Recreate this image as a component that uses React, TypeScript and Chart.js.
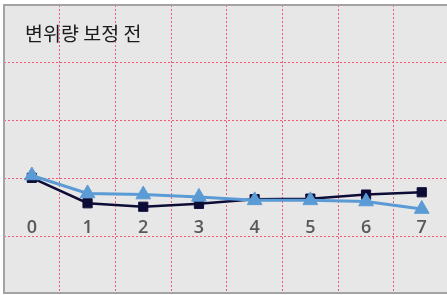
import React, { useEffect, useRef } from "react";
import { Chart, registerables } from "chart.js";

Chart.register(...registerables);

const categories = ["0", "1", "2", "3", "4", "5", "6", "7"];
const squareSeries = [0.01, -0.43, -0.49, -0.44, -0.36, -0.35, -0.28, -0.24];
const triangleSeries = [0.05, -0.26, -0.28, -0.32, -0.38, -0.38, -0.4, -0.53];
const chartTitle = "변위량 보정 전";
const yMin = -2;
const yMax = 3;
const axisCrossValue = -0.6;

const GRID = "#f05a78";
const BG = "#e7e7e7";
const FRAME = "#a3a3a3";
const NAVY = "#0c0c36";
const BLUE = "#5b9bd5";

const framePlugin = {
  id: "frame",
  beforeDraw(chart: any) {
    const { ctx, chartArea: a } = chart;
    ctx.save();
    ctx.fillStyle = "#ffffff";
    ctx.fillRect(0, 0, chart.width, chart.height);
    ctx.fillStyle = BG;
    ctx.fillRect(a.left, a.top, a.right - a.left, a.bottom - a.top);
    ctx.restore();
  },
  afterDraw(chart: any) {
    const { ctx, chartArea: a } = chart;
    ctx.save();
    ctx.strokeStyle = FRAME;
    ctx.lineWidth = 2;
    ctx.strokeRect(a.left, a.top, a.right - a.left + 20, a.bottom - a.top - 1);
    ctx.fillStyle = "#1a1a1a";
    ctx.font = '19.5px "Noto Sans CJK KR", "Noto Sans", sans-serif';
    ctx.textBaseline = "middle";
    ctx.textAlign = "left";
    ctx.fillText(chartTitle, a.left + 21, a.top + 29);
    ctx.restore();
  },
};

export default function App() {
  const ref = useRef<HTMLCanvasElement | null>(null);

  useEffect(() => {
    if (!ref.current) return;
    const chart = new Chart(ref.current, {
      type: "line",
      data: {
        labels: categories,
        datasets: [
          {
            label: "triangle",
            data: triangleSeries,
            borderColor: BLUE,
            backgroundColor: BLUE,
            borderWidth: 3,
            pointStyle: "triangle",
            pointRadius: 8.5,
            pointBorderWidth: 1,
            pointBorderColor: BLUE,
            pointBackgroundColor: BLUE,
            tension: 0,
          },
          {
            label: "square",
            data: squareSeries,
            borderColor: NAVY,
            backgroundColor: NAVY,
            borderWidth: 2.5,
            pointStyle: "rect",
            pointRadius: 6.5,
            pointBorderWidth: 1,
            pointBorderColor: NAVY,
            pointBackgroundColor: NAVY,
            tension: 0,
          },
        ],
      },
      options: {
        responsive: false,
        animation: false,
        layout: { autoPadding: false, padding: { left: 4, top: 5, right: 2.4, bottom: 1 } },
        plugins: {
          legend: { display: false },
          tooltip: { enabled: false },
          title: { display: false },
        },
        scales: {
          x: {
            type: "category",
            position: { y: axisCrossValue } as any,
            offset: true,
            grid: {
              color: (c: any) => (c.index === 0 ? "rgba(0,0,0,0)" : GRID),
              lineWidth: 1,
              drawTicks: false,
              offset: true,
            },
            border: { display: false, dash: [2, 2] },
            ticks: {
              color: "#595959",
              font: { family: "'Open Sans'", size: 18, weight: "600" },
              padding: 4,
              maxRotation: 0,
              autoSkip: false,
            },
          },
          y: {
            min: yMin,
            max: yMax,
            ticks: { display: false, stepSize: 1 },
            grid: {
              color: (c: any) =>
                c.tick && (c.tick.value === yMin || c.tick.value === yMax)
                  ? "rgba(0,0,0,0)"
                  : GRID,
              lineWidth: 1,
              drawTicks: false,
            },
            border: { display: false, dash: [2, 2] },
          },
        },
      },
      plugins: [framePlugin],
    } as any);
    return () => chart.destroy();
  }, []);

  return (
    <div
      style={{
        position: "absolute",
        left: 0,
        top: 0,
        width: 447,
        height: 295,
        overflow: "hidden",
      }}
    >
      <canvas ref={ref} width={452} height={295} style={{ display: "block" }} />
    </div>
  );
}
